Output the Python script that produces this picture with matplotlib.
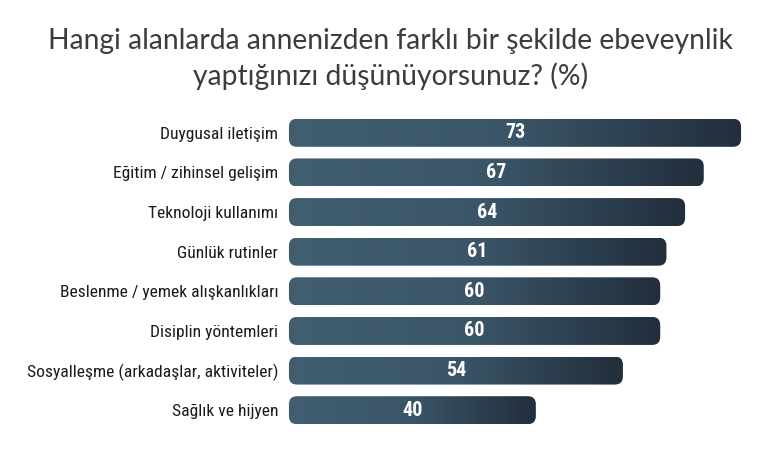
import numpy as np
import matplotlib
matplotlib.use('Agg')
import matplotlib.pyplot as plt
from matplotlib.patches import FancyBboxPatch
from matplotlib.colors import LinearSegmentedColormap

categories = ['Duygusal iletişim', 'Eğitim / zihinsel gelişim', 'Teknoloji kullanımı',
              'Günlük rutinler', 'Beslenme / yemek alışkanlıkları', 'Disiplin yöntemleri',
              'Sosyalleşme (arkadaşlar, aktiviteler)', 'Sağlık ve hijyen']
values = [73, 67, 64, 61, 60, 60, 54, 40]
title = 'Hangi alanlarda annenizden farklı bir şekilde ebeveynlik\nyaptığınızı düşünüyorsunuz? (%)'

NARROW = ['Roboto Condensed', 'Roboto', 'DejaVu Sans']

W, H = 781, 450
fig = plt.figure(figsize=(W / 100, H / 100), dpi=100)
ax = fig.add_axes([288 / W, 1 - 430 / H, (W - 288) / W, 317 / H])

px_x = 454 / 73.0          # pixels per x unit
xmax = (W - 288) / px_x
px_y = 317 / len(values)

cmap = LinearSegmentedColormap.from_list('bar', ['#425e71', '#3a5568', '#222e3b'])
grad = np.linspace(0, 1, 256).reshape(1, -1)
bh = 28 / px_y
r = 8 / px_x
for i, v in enumerate(values):
    box = FancyBboxPatch((0.15, i - bh / 2), v - 0.3, bh,
                         boxstyle='round,pad=0,rounding_size=%f' % r,
                         mutation_aspect=px_x / px_y,
                         facecolor='none', edgecolor='none')
    ax.add_patch(box)
    im = ax.imshow(grad, cmap=cmap, aspect='auto', extent=(0, v, i + bh / 2, i - bh / 2),
                   interpolation='bicubic')
    im.set_clip_path(box)
    ax.text(v / 2, i, str(v), ha='center', va='center', color='white',
            fontsize=14.5, fontweight='bold', family=NARROW)

ax.set_xlim(0, xmax)
ax.set_ylim(len(values) - 0.5, -0.5)
ax.set_yticks(range(len(values)))
ax.set_yticklabels(categories, family=NARROW, fontsize=12.6, color='#1a1a1a')
ax.tick_params(axis='y', length=0, pad=7)
ax.set_xticks([])
for s in ax.spines.values():
    s.set_visible(False)

fig.text(0.5, 1 - 59 / H, title, ha='center', va='center', fontsize=20.3,
         family=['Lato', 'DejaVu Sans'], fontweight='normal', color='#3c3c3c',
         linespacing=1.36)

fig.savefig('out.png', dpi=100)
